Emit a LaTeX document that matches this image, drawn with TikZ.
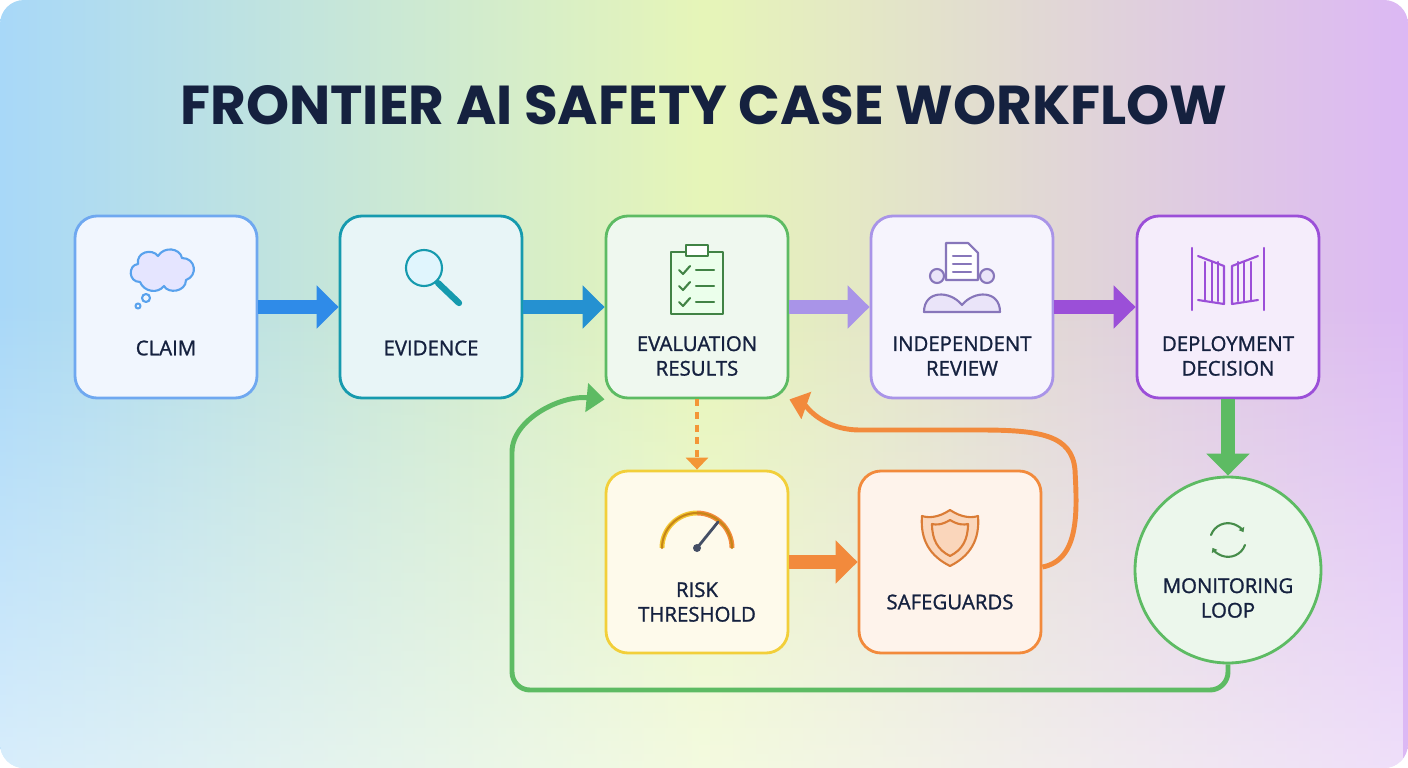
\documentclass[tikz,border=0pt]{standalone}
\usepackage{fontspec}
\setmainfont{Open Sans}[AutoFakeBold=1.2]
\newfontfamily\titlefont{Poppins}
\usetikzlibrary{arrows.meta,shapes.geometric,fadings}
\definecolor{navy}{HTML}{15213F}
\definecolor{cblue}{HTML}{6FA8F0}\definecolor{cteal}{HTML}{169AAE}
\definecolor{cgreen}{HTML}{5DBB63}\definecolor{cpurl}{HTML}{A994E8}
\definecolor{cpur}{HTML}{9B4FD8}\definecolor{cyel}{HTML}{F2CF3A}
\definecolor{cora}{HTML}{F28A3C}\definecolor{ablue}{HTML}{2F8BE8}
\definecolor{bgl}{HTML}{A8D8F8}\definecolor{bgm}{HTML}{E6F5B8}\definecolor{bgr}{HTML}{DCB8F4}
\tikzset{
 box/.style={draw=#1,line width=4pt,rounded corners=1.1cm,minimum width=9.1cm,minimum height=9.1cm,fill=#1!10,align=center,text=navy,font=\fontsize{30}{36}\selectfont},
 lab/.style={text=navy,font=\bfseries\fontsize{29}{35}\selectfont,align=center},
 big/.style={line width=20pt,draw=#1,-{Triangle[length=1.1cm,width=2.1cm]}},
 ico/.style={line width=3pt,draw=#1,line cap=round,line join=round}
}
\begin{document}
\begin{tikzpicture}[x=0.05cm,y=-0.05cm]
\useasboundingbox (0,0) rectangle (1408,768);
\begin{scope}
\clip[rounded corners=1.2cm] (0,0) rectangle (1408,768);
\shade[left color=bgl,right color=bgr,middle color=bgm] (0,0) rectangle (1408,768);
\fill[white,opacity=0.55,path fading=north] (0,300) rectangle (1408,768);
\end{scope}
\node[font=\titlefont\bfseries\fontsize{78}{80}\selectfont,text=navy] (title) at (704,105) {FRONTIER AI SAFETY CASE WORKFLOW};
% boxes
\node[box=cblue] (claim) at (166,307) {};
\node[box=cteal] (evid) at (431,307) {};
\node[box=cgreen] (eval) at (697,307) {};
\node[box=cpurl] (rev) at (962,307) {};
\node[box=cpur] (dep) at (1228,307) {};
\node[box=cyel] (risk) at (697,562) {};
\node[box=cora] (safe) at (950,562) {};
\node[circle,draw=cgreen,line width=4pt,fill=cgreen!12,minimum size=9.3cm] (mon) at (1228,570) {};
% labels
\node[lab] (l1) at (166,348) {CLAIM};
\node[lab] (l2) at (431,348) {EVIDENCE};
\node[lab] (l3) at (697,356) {EVALUATION\\RESULTS};
\node[lab] (l4) at (962,356) {INDEPENDENT\\REVIEW};
\node[lab] (l5) at (1228,356) {DEPLOYMENT\\DECISION};
\node[lab] (l6) at (697,602) {RISK\\THRESHOLD};
\node[lab] (l7) at (950,602) {SAFEGUARDS};
\node[lab] (l8) at (1228,598) {MONITORING\\LOOP};
% icons
\draw[ico=ablue!80,fill=blue!10] (140,282) .. controls (128,282) and (128,265) .. (138,264) .. controls (136,252) and (152,248) .. (158,256) .. controls (164,246) and (180,248) .. (182,258) .. controls (196,258) and (198,276) .. (186,280) .. controls (186,292) and (168,294) .. (164,286) .. controls (158,294) and (144,292) .. (140,282) -- cycle;
\draw[ico=ablue!80] (146,298) circle (4); \draw[ico=ablue!80] (138,306) circle (2.5);
\draw[ico=cteal,fill=cyan!12] (424,268) circle (18);
\draw[line width=9pt,cteal,line cap=round] (438,283) -- (459,303);
\draw[ico=cgreen!70!black,fill=green!8] (671,252) rectangle (723,314);
\draw[ico=cgreen!70!black,fill=white] (686,245) rectangle (708,256);
\foreach \yy in {270,286,302}{\draw[ico=cgreen!70!black] (679,\yy) -- (683,\yy+4) -- (690,\yy-4); \draw[ico=cgreen!70!black] (696,\yy) -- (714,\yy);}
\draw[ico=cpurl!80!black,fill=white] (946,243) -- (968,243) -- (978,253) -- (978,280) -- (946,280) -- cycle;
\foreach \yy in {256,264,272}{\draw[ico=cpurl!80!black] (953,\yy) -- (971,\yy);}
\draw[ico=cpurl!80!black,fill=cpurl!25] (937,276) circle (7) (987,276) circle (7);
\draw[ico=cpurl!80!black,fill=cpurl!25] (924,312) .. controls (924,290) and (950,290) .. (962,305) .. controls (974,290) and (1000,290) .. (1000,312) -- cycle;
\draw[ico=cpur] (1192,248) -- (1192,310) (1264,248) -- (1264,310);
\draw[ico=cpur] (1198,256) -- (1224,266) -- (1224,304) -- (1198,300) (1258,256) -- (1232,266) -- (1232,304) -- (1258,300);
\foreach \xx in {1205,1212,1218}{\draw[ico=cpur] (\xx,262) -- (\xx,301);}
\foreach \xx in {1238,1244,1251}{\draw[ico=cpur] (\xx,262) -- (\xx,301);}
\draw[line width=7pt,cyel!90!orange] (662,548) arc (180:270:35);
\draw[line width=7pt,cora] (697,513) arc (270:360:35);
\draw[ico=cyel!50!orange!80!black] (662,548) arc (180:360:35);
\draw[line width=4pt,navy!80,line cap=round] (697,548) -- (718,522); \fill[navy!80] (697,548) circle (4);
\draw[ico=cora!90!black,fill=cora!35] (950,510) .. controls (962,518) and (972,518) .. (978,516) .. controls (980,540) and (970,556) .. (950,566) .. controls (930,556) and (920,540) .. (922,516) .. controls (928,518) and (938,518) .. (950,510) -- cycle;
\draw[ico=cora!90!black] (950,520) .. controls (958,525) and (964,525) .. (968,524) .. controls (968,540) and (962,550) .. (950,556) .. controls (938,550) and (932,540) .. (932,524) .. controls (936,525) and (942,525) .. (950,520) -- cycle;
\draw[ico=cgreen!75!black,-{Triangle[length=6pt,width=9pt]}] (1211,535) arc (-160:-30:18);
\draw[ico=cgreen!75!black,-{Triangle[length=6pt,width=9pt]}] (1245,545) arc (20:150:18);
% arrows
\draw[big=ablue] (claim) -- (evid);
\draw[big=ablue!60!cteal] (evid) -- (eval);
\draw[big=cpurl] (eval) -- (rev);
\draw[big=cpur] (rev) -- (dep);
\draw[big=cgreen] (dep) -- (mon);
\draw[big=cora] (risk) -- (safe);
\draw[line width=5pt,draw=cora!90!yellow,dash pattern=on 10pt off 8pt,-{Triangle[length=0.6cm,width=1.1cm]}] (eval) -- (risk);
\coordinate (s1) at (1075,470); \coordinate (s2) at (860,430);
\draw[line width=7pt,draw=cora,-{Triangle[length=0.9cm,width=1.4cm]}] ([yshift=-0.25cm]safe.east) .. controls (1080,560) and (1077,510) .. (s1) .. controls (1072,435) and (1040,430) .. (980,430) -- (s2) .. controls (822,430) and (805,405) .. (eval.south east);
\coordinate (m1) at (1228,690); \coordinate (m2) at (512,690);
\draw[line width=7pt,draw=cgreen,rounded corners=0.9cm,-{Triangle[length=0.9cm,width=1.4cm]}] (mon.south) -- (m1) -- (m2) -- (512,470) .. controls (512,420) and (560,395) .. (eval.south west);
\end{tikzpicture}
\end{document}
